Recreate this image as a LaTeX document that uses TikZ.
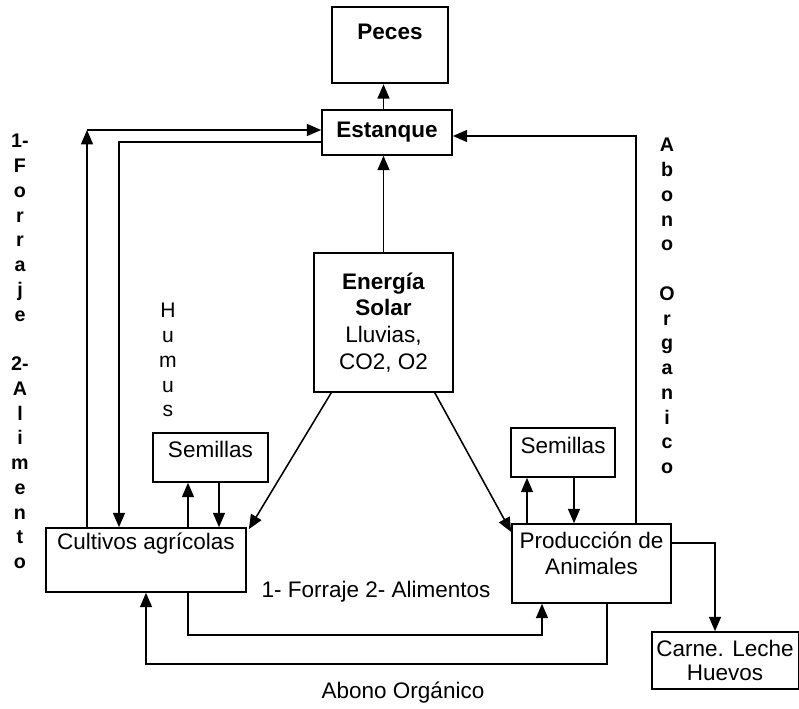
\documentclass[tikz,border=0pt]{standalone}
\usepackage{fontspec}
\setmainfont{Liberation Sans}
\usetikzlibrary{arrows.meta}

\begin{document}
\begin{tikzpicture}
        [x=0.025cm, y=-0.025cm,
        font=\fontsize{16}{18.5}\selectfont,
        box/.style={rectangle, draw, line width=1.1pt},
        flow/.style={line width=1.1pt, -{Triangle[length=0.36cm, width=0.3cm]}},
        vtext/.style={inner sep=0pt, anchor=north, align=center, font=\bfseries\fontsize{14}{17.6}\selectfont},]

        \useasboundingbox (0,0) rectangle (799,708);

        % boxes
        \node[box, line width=1.8pt, minimum width=2.9cm, minimum height=1.9cm,
            label={[anchor=north, inner sep=0pt, yshift=-0.45cm]north:\textbf{Peces}}] (peces) at (390,45) {};
        \node[box, minimum width=3.25cm, minimum height=1.125cm, font=\bfseries\fontsize{16}{18.5}\selectfont] (estanque) at (387,132.5) {Estanque};
        \node[box, minimum width=3.475cm, minimum height=3.475cm, align=center, font=\fontsize{16}{19}\selectfont] (energia) at (383.5,322.5)
            {\textbf{Energía}\\\textbf{Solar}\\Lluvias,\\CO2, O2};
        \node[box, minimum width=2.875cm, minimum height=1.225cm,
            label={[anchor=north, inner sep=0pt, yshift=-0.225cm]north:Semillas}] (semL) at (210.5,457.5) {};
        \node[box, minimum width=5cm, minimum height=1.6cm,
            label={[anchor=north, inner sep=0pt, yshift=-0.125cm]north:Cultivos agrícolas}] (cult) at (146,560) {};
        \node[box, minimum width=2.6cm, minimum height=1.225cm,
            label={[anchor=north, inner sep=0pt, yshift=-0.25cm]north:Semillas}] (semR) at (563,452.5) {};
        \node[box, minimum width=3.975cm, minimum height=1.975cm,
            label={[anchor=north, inner sep=0pt, yshift=-0.2cm, align=center]north:{Producción de\\Animales}}] (prod) at (591.5,563.5) {};
        \node[box, minimum width=3.65cm, minimum height=1.425cm, align=center, font=\fontsize{16}{16.5}\selectfont] (carne) at (725,660.5)
            {Carne. Leche\\Huevos};

        % corners of the connectors
        \coordinate (c1) at (87,130);
        \coordinate (c2) at (119,142);
        \coordinate (c3) at (636,136);
        \coordinate (c5) at (542,635);
        \coordinate (c6) at (146,664);
        \coordinate (c8) at (715,543);
        \coordinate (xa) at (188,0);
        \coordinate (xb) at (219,0);
        \coordinate (xc) at (527,0);
        \coordinate (xd) at (574,0);
        \coordinate (xe) at (607,0);

        % connectors
        \draw[flow] (estanque.north -| energia.north) -- (peces.south -| energia.north);
        \draw[flow] (energia.north) -- (estanque.south -| energia.north);
        \draw[flow] (cult.north -| c1) -- (c1);
        \draw[flow] (c1) -- (estanque.west |- c1);
        \draw[flow] (estanque.west |- c2) -- (c2) -- (cult.north -| c2);
        \draw[flow] (prod.north -| c3) -- (c3) -- (estanque.east |- c3);
        \draw[flow] ([xshift=0.45cm]energia.south west) -- ([xshift=0.05cm, yshift=-0.05cm]cult.north east);
        \draw[flow] ([xshift=-0.475cm]energia.south east) -- ([yshift=-0.22cm]prod.north west);
        \draw[flow] (cult.north -| xa) -- (semL.south -| xa);
        \draw[flow] (semL.south -| xb) -- (cult.north -| xb);
        \draw[flow] (prod.north -| xc) -- (semR.south -| xc);
        \draw[flow] (semR.south -| xd) -- (prod.north -| xd);
        \draw[flow] (cult.south -| xa) |- (c5) -- (prod.south -| c5);
        \draw[flow] (prod.south -| xe) |- (c6) -- (cult.south);
        \draw[flow] (prod.east |- c8) -- (c8) -- (carne.north -| c8);

        % texts
        \node (forraje) at (376,592) {1- Forraje 2- Alimentos};
        \node (abono) at (403,693) {Abono Orgánico};
        \node[vtext] (forrajeV) at (20,134) {1-\\F\\o\\r\\r\\a\\j\\e\\[17.6pt]2-\\A\\l\\i\\m\\e\\n\\t\\o};
        \node[vtext] (abonoV) at (667,138) {A\\b\\o\\n\\o\\[17.6pt]O\\r\\g\\a\\n\\i\\c\\o};
        \node[vtext, font=\fontsize{15}{17.6}\selectfont] (humus) at (168,303) {H\\u\\m\\u\\s};

    \end{tikzpicture}
\end{document}
